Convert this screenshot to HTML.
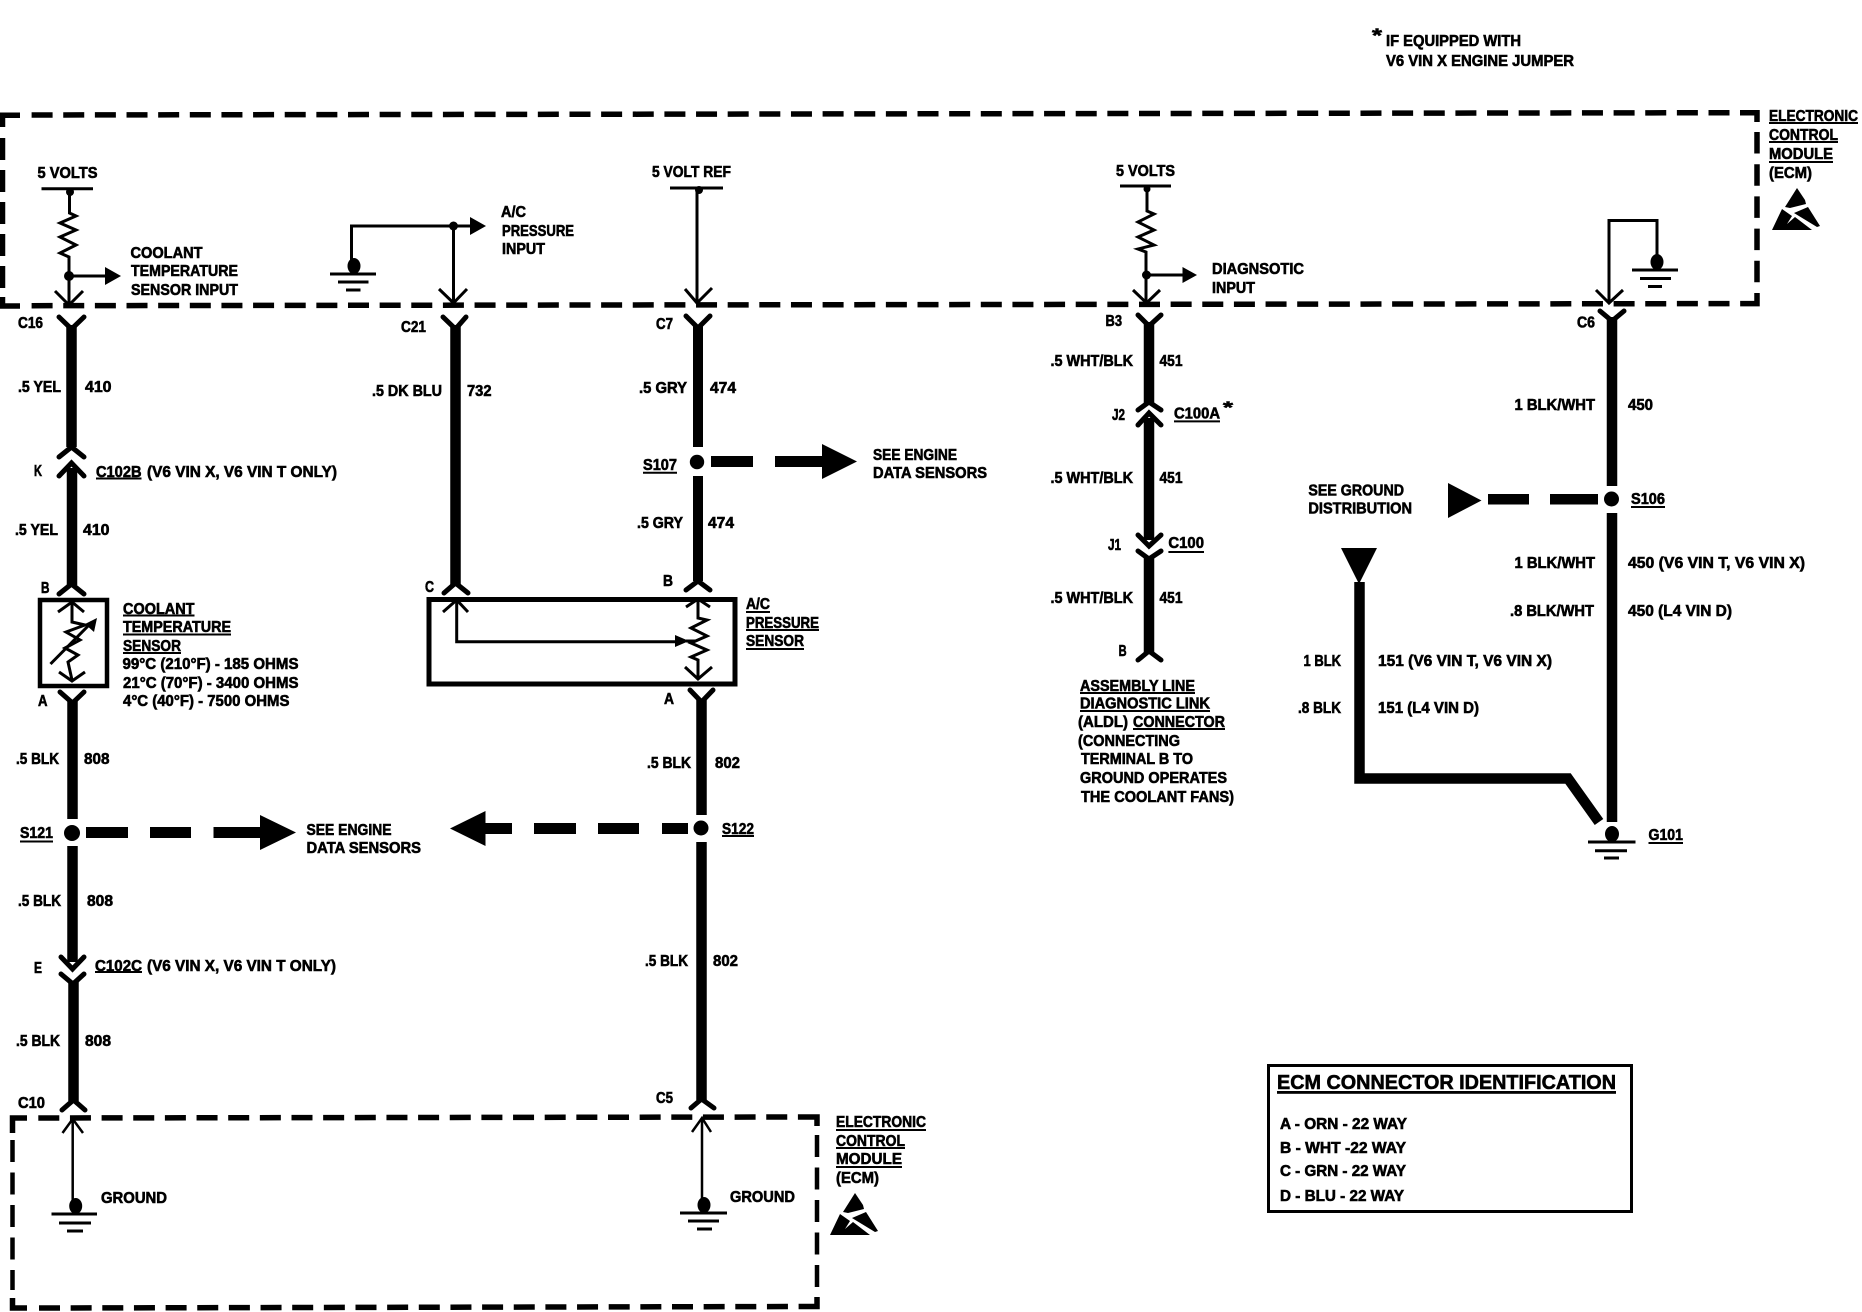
<!DOCTYPE html>
<html><head><meta charset="utf-8"><style>
html,body{margin:0;padding:0;background:#fff}
svg{display:block}
text{font-family:"Liberation Sans",sans-serif;font-weight:bold;font-size:15.5px;fill:#000;stroke:#000;stroke-width:.6px}
.w{fill:none;stroke:#000;stroke-width:10.5}
.c{fill:none;stroke:#000;stroke-width:5;stroke-linecap:round;stroke-linejoin:miter}
.t{fill:none;stroke:#000;stroke-width:3}
.d{fill:none;stroke:#000;stroke-width:5.5}
.k{fill:#000;stroke:none}
</style></head><body>
<svg width="1862" height="1312" viewBox="0 0 1862 1312" xmlns="http://www.w3.org/2000/svg">
<rect width="1862" height="1312" fill="#fff"/>

<!-- top ECM dashed box -->
<line class="d" x1="31.6" y1="115" x2="1740" y2="112.7" stroke-dasharray="21 10.64"/>
<line class="d" x1="31.6" y1="305.7" x2="1742" y2="303.6" stroke-dasharray="21 10.64"/>
<path class="d" d="M2.5,127V115.3H20"/>
<path class="d" d="M2.5,297V306H20"/>
<line class="d" x1="2.5" y1="138" x2="2.5" y2="290" stroke-dasharray="22 10"/>
<path class="d" d="M1740,112.7H1757V122"/>
<path class="d" d="M1742,303.6H1757V293"/>
<line class="d" x1="1757" y1="132" x2="1757" y2="285" stroke-dasharray="21.5 10.7"/>

<!-- bottom ECM dashed box -->
<line class="d" x1="38.3" y1="1118" x2="798" y2="1117" stroke-dasharray="21 10.65"/>
<line class="d" x1="39" y1="1308" x2="800" y2="1306.5" stroke-dasharray="21 10.65"/>
<path class="d" d="M12.5,1133V1118H27"/>
<path class="d" d="M12.5,1298V1308H27"/>
<path class="d" d="M798,1117H817V1126"/>
<path class="d" d="M800,1306.5H817V1297"/>
<line class="d" x1="12.5" y1="1140" x2="12.5" y2="1290" style="stroke-width:4.5" stroke-dasharray="22 10.5"/>
<line class="d" x1="817" y1="1135" x2="817" y2="1288" style="stroke-width:4.5" stroke-dasharray="22 10.5"/>

<!-- column 1 inside ECM -->
<path class="t" d="M41.5,188.7H93"/>
<circle class="k" cx="70" cy="192" r="4"/>
<path class="t" d="M69.5,190V213L76,216L60,223L76,230L60,237L76,245L60,253L69,257V305"/>
<circle class="k" cx="69" cy="276" r="5"/>
<path class="t" d="M69,276H106"/>
<path class="k" d="M105,267L121,276L105,285Z"/>
<path class="t" d="M55,291L69,305L83,291"/>

<!-- column 2 inside ECM -->
<path class="t" d="M351.5,262V226H472"/>
<circle class="k" cx="453.5" cy="226" r="4.5"/>
<path class="k" d="M470,217L486,226L470,235Z"/>
<path class="t" d="M453.5,226V303"/>
<path class="t" d="M439,289L453.5,303L467,289"/>
<ellipse class="k" cx="354" cy="266" rx="6.5" ry="8"/>
<path class="t" d="M330,274H376M338,282H368.5M346,290H360.5"/>

<!-- column 3 inside ECM -->
<path class="t" d="M670,188H723"/>
<circle class="k" cx="699" cy="190" r="4"/>
<path class="t" d="M697,190V303"/>
<path class="t" d="M685,289L697,303L712,288"/>

<!-- column 4 inside ECM -->
<path class="t" d="M1120,186H1171"/>
<circle class="k" cx="1147" cy="189" r="3.5"/>
<path class="t" d="M1147,188V211L1154,214L1138,222L1154,230L1138,237L1154,245L1138,249L1146,252V303"/>
<circle class="k" cx="1146.5" cy="275" r="4.5"/>
<path class="t" d="M1146.5,275H1183"/>
<path class="k" d="M1182.5,267L1197,275L1182.5,283Z"/>
<path class="t" d="M1133,290L1146.5,303L1160,290"/>

<!-- column 5 inside ECM -->
<path class="t" d="M1609,303V220.5H1657V256"/>
<path class="t" d="M1596,290L1609,303L1623,290"/>
<ellipse class="k" cx="1657" cy="262" rx="6.5" ry="8"/>
<path class="t" d="M1632,270H1678M1640,278.5H1671M1648,286.5H1662"/>

<!-- wire 1 -->
<path class="w" d="M71.5,325V447"/>
<path class="c" d="M59,317L71.5,329L84,317"/>
<path class="c" d="M59,457L71.5,447L84,457"/>
<path class="w" d="M72,468V585"/>
<path class="c" d="M59,476L71.5,463L84,476"/>
<path class="c" d="M59,594L71.5,584L84,594"/>
<rect x="40" y="600" width="67" height="86" fill="none" stroke="#000" stroke-width="4.5"/>
<path class="t" d="M72,602V622L85,625L66,632L80,640L65,648L78,655L68,662L72,680"/>
<path class="t" d="M58,612L72,602L84,612"/>
<path class="t" d="M59,672L72,681L85,672"/>
<path class="t" d="M50.5,664L92,622"/>
<path class="k" d="M97,618L94,632L85,624Z"/>
<path class="w" d="M72.5,700V819"/>
<path class="c" d="M60,692L72.5,703L84,692"/>
<circle class="k" cx="72" cy="833" r="8"/>
<path class="w" d="M72.5,846V962"/>
<path class="c" d="M61,957L72.5,969L84,957"/>
<path class="c" d="M61,974L73,984L84,974"/>
<path class="w" d="M73.5,982V1101"/>
<path class="c" d="M62,1110L73.5,1100L85,1110"/>

<!-- S121 dashes -->
<rect class="k" x="86" y="827" width="42" height="11"/>
<rect class="k" x="150" y="827" width="41" height="11"/>
<rect class="k" x="213.5" y="827" width="48" height="11"/>
<path class="k" d="M260,815L296,832.5L260,850Z"/>

<!-- inner ground arrow bottom left -->
<path class="t" style="stroke-width:2.5" d="M72.7,1120V1202"/>
<path class="t" style="stroke-width:2.5" d="M62.5,1133L72.7,1119L83,1133"/>
<ellipse class="k" cx="75.7" cy="1206" rx="6.5" ry="8"/>
<path class="t" d="M51.5,1214H97M59,1223H91M67,1231H83"/>

<!-- wire 2 -->
<path class="w" d="M455.5,325V585"/>
<path class="c" d="M443,317L455.5,329L466,317"/>
<path class="c" d="M444,593L455.5,583L468,593"/>
<rect x="429" y="599.5" width="306" height="84.5" fill="none" stroke="#000" stroke-width="5"/>
<path class="t" d="M456.7,600V641.7H680"/>
<path class="t" d="M443,612L456.7,600L468,612"/>
<path class="k" d="M675,635L689,641L675,647Z"/>
<path class="t" d="M686,641H696"/>
<path class="t" d="M698,600V618L707,620L691,628L707,636L691,643L707,650L691,657L698,660V678"/>
<path class="t" d="M686,607L698,599L710,607"/>
<path class="t" d="M685,667L698,679L712,667"/>

<!-- wire 3 -->
<path class="w" style="stroke-width:10" d="M698,325V447M698,476V581"/>
<path class="c" d="M686,316L698,328L710,316"/>
<path class="c" d="M686,590L698,581L710,590"/>
<circle class="k" cx="697" cy="462" r="7.2"/>
<rect class="k" x="711" y="456" width="42" height="11"/>
<rect class="k" x="775" y="456" width="48" height="11"/>
<path class="k" d="M822,444L857,461.5L822,479Z"/>
<path class="w" d="M701.5,700V815M701.5,842V1100"/>
<path class="c" d="M690,690L701.5,702L713,690"/>
<circle class="k" cx="701" cy="828" r="7.5"/>
<path class="c" d="M691,1108L701.5,1099L714,1108"/>
<path class="k" d="M450,828.5L485.5,811V846Z"/>
<rect class="k" x="484" y="823" width="28" height="11"/>
<rect class="k" x="534" y="823" width="42" height="11"/>
<rect class="k" x="598" y="823" width="41" height="11"/>
<rect class="k" x="662" y="823" width="26" height="11"/>

<!-- ground bottom centre -->
<path class="t" style="stroke-width:2.5" d="M702,1118V1200"/>
<path class="t" style="stroke-width:2.5" d="M692,1132L702,1118L711,1132"/>
<ellipse class="k" cx="704" cy="1205" rx="6.5" ry="8"/>
<path class="t" d="M680,1213H727M688,1221H719M697,1229H712"/>

<!-- wire 4 -->
<path class="w" d="M1149,322V403"/>
<path class="c" d="M1138,315L1149,326L1161,315"/>
<path class="c" d="M1138,410L1149,402L1161,410"/>
<path class="w" d="M1149,418V540"/>
<path class="c" d="M1138,425L1149,413L1161,425"/>
<path class="c" d="M1138,535L1149,546L1161,535"/>
<path class="c" d="M1138,551L1149,559L1161,551"/>
<path class="w" d="M1149,558V652"/>
<path class="c" d="M1138,660L1149,651L1161,660"/>

<!-- wire 5 -->
<path class="w" d="M1612,317V486M1612,513V822"/>
<path class="c" d="M1600,311L1612,321L1624,311"/>
<circle class="k" cx="1611.5" cy="499" r="7.5"/>
<rect class="k" x="1550" y="494" width="48" height="10.5"/>
<rect class="k" x="1488" y="494" width="41" height="10.5"/>
<path class="k" d="M1448,483L1481.5,500.5L1448,518Z"/>
<path class="w" style="stroke-linejoin:miter" d="M1359.5,582V778.5H1568L1599,822"/>
<path class="k" d="M1341,548H1377L1359,584Z"/>
<ellipse class="k" cx="1612" cy="834" rx="7" ry="8"/>
<path class="t" d="M1588,842H1635.5M1595,850.7H1627M1604,858H1619"/>

<!-- ESD symbols -->
<g class="k">
<path d="M1797,188L1805,200L1806,204L1790,208L1785,207Z"/>
<path d="M1772,230L1782,209L1792,216L1787,224L1795,217L1812,230Z"/>
<path d="M1794,213L1808,207L1820,226L1817,227Z"/>
</g>
<g class="k" transform="translate(-942,1005)">
<path d="M1797,188L1805,200L1806,204L1790,208L1785,207Z"/>
<path d="M1772,230L1782,209L1792,216L1787,224L1795,217L1812,230Z"/>
<path d="M1794,213L1808,207L1820,226L1817,227Z"/>
</g>

<!-- underlines -->
<path class="t" style="stroke-width:2" d="M96,478.5H141.5M123,615.5H194.5M123,634.5H231M123,653H181M20,841.5H53M95,972H142M643,472.7H677M722,836H754M746,612H770M746,630H819M746,649H804M1174,421.4H1220M1168.4,552H1204M1080,693H1195M1080,711H1210M1133,729H1225M1631,507H1665M1648.5,843H1683M836,1130H926M836,1148H905M836,1167H902M1769,123H1858M1769,142H1838M1769,162H1833"/>
<rect class="k" x="1277" y="1091" width="339" height="2.8"/>

<!-- ECM connector ID box -->
<rect x="1268.5" y="1065.5" width="363" height="146" fill="none" stroke="#000" stroke-width="3"/>
<text x="1277" y="1089" textLength="339" lengthAdjust="spacingAndGlyphs" style="font-size:20.5px">ECM CONNECTOR IDENTIFICATION</text>
<text x="1280" y="1129" textLength="127" lengthAdjust="spacingAndGlyphs">A - ORN - 22 WAY</text>
<text x="1280" y="1153" textLength="126" lengthAdjust="spacingAndGlyphs">B - WHT -22 WAY</text>
<text x="1280" y="1176" textLength="126" lengthAdjust="spacingAndGlyphs">C - GRN - 22 WAY</text>
<text x="1280" y="1201" textLength="124" lengthAdjust="spacingAndGlyphs">D - BLU - 22 WAY</text>

<!-- top note -->
<text x="1372" y="42" style="font-size:19px" textLength="10" lengthAdjust="spacingAndGlyphs">*</text>
<text x="1386" y="46" textLength="135" lengthAdjust="spacingAndGlyphs">IF EQUIPPED WITH</text>
<text x="1386" y="66" textLength="188" lengthAdjust="spacingAndGlyphs">V6 VIN X ENGINE JUMPER</text>

<!-- ECM labels -->
<text x="1769" y="121" textLength="89" lengthAdjust="spacingAndGlyphs">ELECTRONIC</text>
<text x="1769" y="140" textLength="69" lengthAdjust="spacingAndGlyphs">CONTROL</text>
<text x="1769" y="159" textLength="64" lengthAdjust="spacingAndGlyphs">MODULE</text>
<text x="1769" y="178" textLength="43" lengthAdjust="spacingAndGlyphs">(ECM)</text>
<text x="836" y="1127" textLength="90" lengthAdjust="spacingAndGlyphs">ELECTRONIC</text>
<text x="836" y="1146" textLength="69" lengthAdjust="spacingAndGlyphs">CONTROL</text>
<text x="836" y="1164" textLength="66" lengthAdjust="spacingAndGlyphs">MODULE</text>
<text x="836" y="1183" textLength="43" lengthAdjust="spacingAndGlyphs">(ECM)</text>

<!-- inside ECM labels -->
<text x="37.5" y="178" textLength="60" lengthAdjust="spacingAndGlyphs">5 VOLTS</text>
<text x="130.5" y="258" textLength="72" lengthAdjust="spacingAndGlyphs">COOLANT</text>
<text x="131" y="276" textLength="107" lengthAdjust="spacingAndGlyphs">TEMPERATURE</text>
<text x="131" y="295" textLength="107" lengthAdjust="spacingAndGlyphs">SENSOR INPUT</text>
<text x="501" y="217" textLength="25" lengthAdjust="spacingAndGlyphs">A/C</text>
<text x="502" y="236" textLength="72" lengthAdjust="spacingAndGlyphs">PRESSURE</text>
<text x="502" y="254" textLength="43" lengthAdjust="spacingAndGlyphs">INPUT</text>
<text x="652" y="177" textLength="79" lengthAdjust="spacingAndGlyphs">5 VOLT REF</text>
<text x="1116" y="176" textLength="59" lengthAdjust="spacingAndGlyphs">5 VOLTS</text>
<text x="1212" y="274" textLength="92" lengthAdjust="spacingAndGlyphs">DIAGNSOTIC</text>
<text x="1212" y="293" textLength="43" lengthAdjust="spacingAndGlyphs">INPUT</text>
<text x="101" y="1203" textLength="66" lengthAdjust="spacingAndGlyphs">GROUND</text>
<text x="730" y="1202" textLength="65" lengthAdjust="spacingAndGlyphs">GROUND</text>

<!-- column 1 labels -->
<text x="18" y="328" textLength="25" lengthAdjust="spacingAndGlyphs">C16</text>
<text x="18" y="392" textLength="43" lengthAdjust="spacingAndGlyphs">.5 YEL</text>
<text x="85" y="392" textLength="26.5" lengthAdjust="spacingAndGlyphs">410</text>
<text x="34" y="476" textLength="8" lengthAdjust="spacingAndGlyphs">K</text>
<text x="96" y="477" textLength="45.5" lengthAdjust="spacingAndGlyphs">C102B</text>
<text x="147" y="477" textLength="190" lengthAdjust="spacingAndGlyphs">(V6 VIN X, V6 VIN T ONLY)</text>
<text x="15" y="535" textLength="43" lengthAdjust="spacingAndGlyphs">.5 YEL</text>
<text x="83" y="535" textLength="26.5" lengthAdjust="spacingAndGlyphs">410</text>
<text x="41" y="593" textLength="8.5" lengthAdjust="spacingAndGlyphs">B</text>
<text x="123" y="614" textLength="71.5" lengthAdjust="spacingAndGlyphs">COOLANT</text>
<text x="123" y="632" textLength="108" lengthAdjust="spacingAndGlyphs">TEMPERATURE</text>
<text x="123" y="651" textLength="58" lengthAdjust="spacingAndGlyphs">SENSOR</text>
<text x="122.5" y="669" textLength="176" lengthAdjust="spacingAndGlyphs">99°C (210°F) - 185 OHMS</text>
<text x="123" y="688" textLength="175.5" lengthAdjust="spacingAndGlyphs">21°C (70°F) - 3400 OHMS</text>
<text x="123" y="706" textLength="166.5" lengthAdjust="spacingAndGlyphs">4°C (40°F) - 7500 OHMS</text>
<text x="38" y="706" textLength="9.5" lengthAdjust="spacingAndGlyphs">A</text>
<text x="16" y="764" textLength="43" lengthAdjust="spacingAndGlyphs">.5 BLK</text>
<text x="84" y="764" textLength="25.5" lengthAdjust="spacingAndGlyphs">808</text>
<text x="20" y="838" textLength="33" lengthAdjust="spacingAndGlyphs">S121</text>
<text x="306.5" y="835" textLength="85" lengthAdjust="spacingAndGlyphs">SEE ENGINE</text>
<text x="306.5" y="853" textLength="114.5" lengthAdjust="spacingAndGlyphs">DATA SENSORS</text>
<text x="18" y="906" textLength="43" lengthAdjust="spacingAndGlyphs">.5 BLK</text>
<text x="87" y="906" textLength="26" lengthAdjust="spacingAndGlyphs">808</text>
<text x="34" y="973" textLength="8" lengthAdjust="spacingAndGlyphs">E</text>
<text x="95" y="971" textLength="47" lengthAdjust="spacingAndGlyphs">C102C</text>
<text x="147" y="971" textLength="189" lengthAdjust="spacingAndGlyphs">(V6 VIN X, V6 VIN T ONLY)</text>
<text x="16" y="1046" textLength="44" lengthAdjust="spacingAndGlyphs">.5 BLK</text>
<text x="85" y="1046" textLength="26" lengthAdjust="spacingAndGlyphs">808</text>
<text x="18" y="1108" textLength="27" lengthAdjust="spacingAndGlyphs">C10</text>

<!-- column 2/3 labels -->
<text x="401" y="332" textLength="25" lengthAdjust="spacingAndGlyphs">C21</text>
<text x="372" y="396" textLength="70" lengthAdjust="spacingAndGlyphs">.5 DK BLU</text>
<text x="467" y="396" textLength="24.5" lengthAdjust="spacingAndGlyphs">732</text>
<text x="425" y="592" textLength="9" lengthAdjust="spacingAndGlyphs">C</text>
<text x="656" y="329" textLength="17" lengthAdjust="spacingAndGlyphs">C7</text>
<text x="639" y="393" textLength="48" lengthAdjust="spacingAndGlyphs">.5 GRY</text>
<text x="710" y="393" textLength="26" lengthAdjust="spacingAndGlyphs">474</text>
<text x="643" y="470" textLength="34" lengthAdjust="spacingAndGlyphs">S107</text>
<text x="873" y="460" textLength="84" lengthAdjust="spacingAndGlyphs">SEE ENGINE</text>
<text x="873" y="478" textLength="114" lengthAdjust="spacingAndGlyphs">DATA SENSORS</text>
<text x="637" y="528" textLength="46" lengthAdjust="spacingAndGlyphs">.5 GRY</text>
<text x="708" y="528" textLength="26" lengthAdjust="spacingAndGlyphs">474</text>
<text x="663" y="586" textLength="10" lengthAdjust="spacingAndGlyphs">B</text>
<text x="746" y="609" textLength="24" lengthAdjust="spacingAndGlyphs">A/C</text>
<text x="746" y="628" textLength="73" lengthAdjust="spacingAndGlyphs">PRESSURE</text>
<text x="746" y="646" textLength="58" lengthAdjust="spacingAndGlyphs">SENSOR</text>
<text x="664" y="704" textLength="10" lengthAdjust="spacingAndGlyphs">A</text>
<text x="647" y="768" textLength="44" lengthAdjust="spacingAndGlyphs">.5 BLK</text>
<text x="715" y="768" textLength="25" lengthAdjust="spacingAndGlyphs">802</text>
<text x="722" y="834" textLength="32" lengthAdjust="spacingAndGlyphs">S122</text>
<text x="645" y="966" textLength="43" lengthAdjust="spacingAndGlyphs">.5 BLK</text>
<text x="713" y="966" textLength="25" lengthAdjust="spacingAndGlyphs">802</text>
<text x="656" y="1103" textLength="17" lengthAdjust="spacingAndGlyphs">C5</text>

<!-- column 4 labels -->
<text x="1105.5" y="326" textLength="16.5" lengthAdjust="spacingAndGlyphs">B3</text>
<text x="1050.5" y="366" textLength="82.5" lengthAdjust="spacingAndGlyphs">.5 WHT/BLK</text>
<text x="1159.5" y="366" textLength="23" lengthAdjust="spacingAndGlyphs">451</text>
<text x="1112" y="420" textLength="13" lengthAdjust="spacingAndGlyphs">J2</text>
<text x="1174" y="418.5" textLength="46" lengthAdjust="spacingAndGlyphs">C100A</text>
<text x="1223" y="413" style="font-size:17px" textLength="10" lengthAdjust="spacingAndGlyphs">*</text>
<text x="1050.5" y="483" textLength="82.5" lengthAdjust="spacingAndGlyphs">.5 WHT/BLK</text>
<text x="1159.5" y="483" textLength="23" lengthAdjust="spacingAndGlyphs">451</text>
<text x="1108" y="550" textLength="13" lengthAdjust="spacingAndGlyphs">J1</text>
<text x="1168.4" y="548" textLength="35.6" lengthAdjust="spacingAndGlyphs">C100</text>
<text x="1050.5" y="603" textLength="82.5" lengthAdjust="spacingAndGlyphs">.5 WHT/BLK</text>
<text x="1159.5" y="603" textLength="23" lengthAdjust="spacingAndGlyphs">451</text>
<text x="1118.6" y="656" textLength="8" lengthAdjust="spacingAndGlyphs">B</text>
<text x="1080" y="691" textLength="115" lengthAdjust="spacingAndGlyphs">ASSEMBLY LINE</text>
<text x="1080" y="708.5" textLength="130" lengthAdjust="spacingAndGlyphs">DIAGNOSTIC LINK</text>
<text x="1078" y="727" textLength="50" lengthAdjust="spacingAndGlyphs">(ALDL)</text>
<text x="1133" y="727" textLength="92" lengthAdjust="spacingAndGlyphs">CONNECTOR</text>
<text x="1078" y="746" textLength="102" lengthAdjust="spacingAndGlyphs">(CONNECTING</text>
<text x="1081" y="764" textLength="112" lengthAdjust="spacingAndGlyphs">TERMINAL B TO</text>
<text x="1080" y="783" textLength="147" lengthAdjust="spacingAndGlyphs">GROUND OPERATES</text>
<text x="1081" y="802" textLength="153" lengthAdjust="spacingAndGlyphs">THE COOLANT FANS)</text>

<!-- column 5 labels -->
<text x="1577" y="327.5" textLength="18" lengthAdjust="spacingAndGlyphs">C6</text>
<text x="1514.5" y="410" textLength="80.5" lengthAdjust="spacingAndGlyphs">1 BLK/WHT</text>
<text x="1628" y="410" textLength="25" lengthAdjust="spacingAndGlyphs">450</text>
<text x="1308.4" y="495.4" textLength="95.6" lengthAdjust="spacingAndGlyphs">SEE GROUND</text>
<text x="1308.4" y="513.5" textLength="103.6" lengthAdjust="spacingAndGlyphs">DISTRIBUTION</text>
<text x="1631" y="504" textLength="34" lengthAdjust="spacingAndGlyphs">S106</text>
<text x="1514.5" y="568" textLength="80.5" lengthAdjust="spacingAndGlyphs">1 BLK/WHT</text>
<text x="1628" y="568" textLength="177" lengthAdjust="spacingAndGlyphs">450 (V6 VIN T, V6 VIN X)</text>
<text x="1510" y="616" textLength="84" lengthAdjust="spacingAndGlyphs">.8 BLK/WHT</text>
<text x="1628" y="616" textLength="104" lengthAdjust="spacingAndGlyphs">450 (L4 VIN D)</text>
<text x="1303.5" y="666" textLength="37.5" lengthAdjust="spacingAndGlyphs">1 BLK</text>
<text x="1378" y="666" textLength="174" lengthAdjust="spacingAndGlyphs">151 (V6 VIN T, V6 VIN X)</text>
<text x="1298" y="713" textLength="43" lengthAdjust="spacingAndGlyphs">.8 BLK</text>
<text x="1378" y="713" textLength="101" lengthAdjust="spacingAndGlyphs">151 (L4 VIN D)</text>
<text x="1648.5" y="840" textLength="34.5" lengthAdjust="spacingAndGlyphs">G101</text>
</svg>
</body></html>
